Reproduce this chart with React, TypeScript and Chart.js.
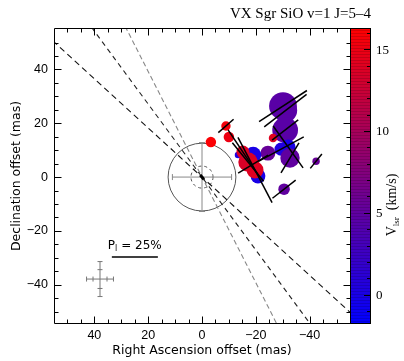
import React, { useEffect, useRef } from 'react';
import { Chart, registerables } from 'chart.js';
Chart.register(...registerables);

// ---------------- data ----------------
const TITLE = 'VX Sgr SiO v=1 J=5\u20134';
const X_TITLE = 'Right Ascension offset (mas)';
const Y_TITLE = 'Declination offset (mas)';

// maser spots: RA offset (mas), Dec offset (mas), velocity (km/s), flux (Jy)
const spotX = [-30.1, -31.0, -30.9, -26.4, -32.0, -29.4, -32.7, -42.4, -30.5, -24.5, -19.0, -20.8, -13.4, -15.2, -17.1, -19.7, -19.0, -10.0, -8.9, -3.3];
const spotY = [26.4, 24.7, 17.5, 14.5, 11.2, 10.4, 7.1, 5.9, -4.5, 8.9, 8.2, 0.4, 8.2, 9.3, 5.6, 2.6, 4.8, 14.9, 19.0, 13.0];
const spotV = [4.5, 4.5, 4.5, 14.0, 0.0, 0.5, 5.0, 5.5, 5.0, 5.5, 0.0, 0.0, 0.5, 14.0, 13.5, 14.0, 14.0, 15.0, 15.5, 16.0];
const spotFlux = [35, 25, 30, 3.3, 10, 8, 17, 2.5, 6, 10, 12, 10, 2, 7.5, 17, 13, 7, 5, 4, 5];
// polarization vectors: position angle (deg, E of N) and linear pol. fraction (%)
const vecPA = [-57, -52.5, -52, null, 35.5, -61.5, -31, -39, -52, null, null, null, null, 33.7, 39, 27.6, -59, null, -49, null];
const vecPol = [31, 29, 18, 0, 28, 28, 19, 10, 16, 0, 0, 0, 0, 29, 27, 40, 19, 0, 11, 0];

// central (star position) vector
const CORE_PA = 40;
const CORE_POL = 3;

// dashed lines through the star (position angles, deg)
const dashPA = [47.6, 36.4, 27.0];

const axisTicks = [-40, -20, 0, 20, 40];
const cbTicks = [0, 5, 10, 15];
const V_MIN = -1.8;
const V_MAX = 16.3;
const POL_REF = 25; // % for the scale bar
const POL_REF_MAS = 17.1; // length in mas of the 25% bar

// ---------------- helpers ----------------
const DEG = Math.PI / 180;
const SANS = '"DejaVu Sans", sans-serif';
const TICKFONT = '"Liberation Sans", Arial, sans-serif';
const SERIF = '"Liberation Serif", "Times New Roman", serif';

function vRGB(v: number): [number, number, number] {
  const t = Math.max(0, Math.min(1, (v - V_MIN) / (V_MAX - V_MIN)));
  return [Math.round(255 * t), 0, Math.round(255 * (1 - t))];
}
function vColor(v: number) {
  const [r, g, b] = vRGB(v);
  return `rgb(${r},${g},${b})`;
}
const polToMas = (p: number) => (p * POL_REF_MAS) / POL_REF;
const fmt = (v: number) => (v < 0 ? '\u2212' + Math.abs(v) : String(v));

function segment(x: number, y: number, pa: number, lenMas: number) {
  const h = lenMas / 2;
  const s = Math.sin(pa * DEG);
  const c = Math.cos(pa * DEG);
  return [
    { x: x - h * s, y: y - h * c },
    { x: x + h * s, y: y + h * c },
  ];
}

function buildDatasets() {
  const ds: any[] = [];
  const dashColors = ['#111', '#222', '#888'];
  const dashStyles = [[6, 4], [5, 4], [5, 3]];
  dashPA.forEach((pa, i) => {
    ds.push({
      data: segment(0, 0, pa, 300),
      showLine: true,
      borderColor: dashColors[i],
      borderDash: dashStyles[i],
      borderWidth: 1.1,
      pointRadius: 0,
      order: 3,
    });
  });
  ds.push({
    data: spotX.map((x, i) => ({ x, y: spotY[i] })),
    pointRadius: spotFlux.map((f) => 2.35 * Math.sqrt(f)),
    pointBackgroundColor: spotV.map(vColor),
    pointBorderWidth: 0,
    showLine: false,
    order: 2,
  });
  spotX.forEach((x, i) => {
    const pa = vecPA[i];
    if (pa === null) return;
    ds.push({
      data: segment(x, spotY[i], pa, polToMas(vecPol[i])),
      showLine: true,
      borderColor: '#000',
      borderWidth: 1.5,
      pointRadius: 0,
      order: 1,
    });
  });
  ds.push({
    data: segment(0, 0, CORE_PA, polToMas(CORE_POL)),
    showLine: true,
    borderColor: '#000',
    borderWidth: 3,
    pointRadius: 0,
    order: 1,
  });
  return ds;
}

// ---------------- drawing plugin ----------------
function drawCross(ctx: CanvasRenderingContext2D, cx: number, cy: number, ox: number, oy: number, ix: number, iy: number, cap: number) {
  ctx.beginPath();
  ctx.moveTo(cx - ox, cy); ctx.lineTo(cx + ox, cy);
  ctx.moveTo(cx, cy - oy); ctx.lineTo(cx, cy + oy);
  const caps: [number, number, boolean][] = [[-ox, 0, true], [ox, 0, true], [0, -oy, false], [0, oy, false]];
  if (ix > 0) caps.push([-ix, 0, true], [ix, 0, true], [0, -iy, false], [0, iy, false]);
  caps.forEach(([dx, dy, vert]) => {
    if (vert) { ctx.moveTo(cx + dx, cy - cap); ctx.lineTo(cx + dx, cy + cap); }
    else { ctx.moveTo(cx - cap, cy + dy); ctx.lineTo(cx + cap, cy + dy); }
  });
  ctx.stroke();
}

const overlay = {
  id: 'overlay',
  beforeDatasetsDraw(chart: any) {
    const { ctx, scales: { x, y } } = chart;
    const k = Math.abs(x.getPixelForValue(1) - x.getPixelForValue(0));
    const cx = x.getPixelForValue(0);
    const cy = y.getPixelForValue(0);
    ctx.save();
    ctx.strokeStyle = '#555';
    ctx.lineWidth = 1;
    ctx.beginPath();
    ctx.arc(cx, cy, 12.6 * k, 0, Math.PI * 2);
    ctx.stroke();
    ctx.setLineDash([3, 3]);
    ctx.beginPath();
    ctx.arc(cx, cy, 4.1 * k, 0, Math.PI * 2);
    ctx.stroke();
    ctx.setLineDash([]);
    ctx.strokeStyle = '#888';
    drawCross(ctx, cx, cy, 11 * k, 12.8 * k, 0, 0, 3);
    ctx.strokeStyle = '#777';
    drawCross(ctx, x.getPixelForValue(37.9), y.getPixelForValue(-37.9), 5 * k, 6.5 * k, 2.6 * k, 3.5 * k, 2.5);
    ctx.restore();
  },
  afterDraw(chart: any) {
    const { ctx, chartArea: { left, right, top, bottom }, scales: { x, y, cb } } = chart;
    ctx.save();
    // ---- colorbar ----
    const cbL = right;
    const cbW = 20;
    for (let py = Math.floor(top); py < Math.ceil(bottom); py++) {
      const v = cb.getValueForPixel(py + 0.5);
      let [r, g, b] = vRGB(v);
      if (py % 3 === 0) { r *= 0.85; g *= 0.85; b *= 0.85; }
      ctx.fillStyle = `rgb(${Math.round(r)},${Math.round(g)},${Math.round(b)})`;
      ctx.fillRect(cbL, py, cbW, 1);
    }
    ctx.strokeStyle = '#000';
    ctx.lineWidth = 1;
    ctx.strokeRect(Math.round(cbL) + 0.5, Math.round(top) + 0.5, cbW, Math.round(bottom - top) - 1);
    ctx.beginPath();
    for (let v = Math.ceil(V_MIN); v <= V_MAX; v++) {
      const py = Math.round(cb.getPixelForValue(v)) + 0.5;
      const len = v % 5 === 0 ? 6 : 3;
      ctx.moveTo(cbL + cbW, py); ctx.lineTo(cbL + cbW - len, py);
    }
    ctx.stroke();
    ctx.fillStyle = '#000';
    ctx.font = `13px ${SERIF}`;
    ctx.textAlign = 'left';
    ctx.textBaseline = 'middle';
    cbTicks.forEach((v) => ctx.fillText(String(v), cbL + cbW + 6, cb.getPixelForValue(v) + 1));
    // V_lsr label
    ctx.save();
    ctx.translate(396, 205);
    ctx.rotate(-Math.PI / 2);
    ctx.textBaseline = 'alphabetic';
    ctx.font = `14px ${SERIF}`;
    const rest = '  (km/s)';
    const wV = ctx.measureText('V').width;
    const wRest = ctx.measureText(rest).width;
    ctx.font = `9px ${SERIF}`;
    const wSub = ctx.measureText('lsr').width;
    let tx = -(wV + wSub + wRest) / 2;
    ctx.font = `14px ${SERIF}`;
    ctx.fillText('V', tx, 0); tx += wV;
    ctx.font = `9px ${SERIF}`;
    ctx.fillText('lsr', tx, 3); tx += wSub;
    ctx.font = `14px ${SERIF}`;
    ctx.fillText(rest, tx, 0);
    ctx.restore();

    // ---- frame & ticks ----
    const L = Math.round(left) + 0.5, R = Math.round(right) + 0.5, T = Math.round(top) + 0.5, B = Math.round(bottom) - 0.5;
    ctx.strokeStyle = '#000';
    ctx.lineWidth = 1;
    ctx.beginPath();
    ctx.moveTo(L, T); ctx.lineTo(R, T); ctx.lineTo(R, B); ctx.lineTo(L, B); ctx.closePath();
    for (let v = -50; v <= 50; v += 5) {
      const len = v % 20 === 0 ? 7 : 4;
      const px = Math.round(x.getPixelForValue(v)) + 0.5;
      ctx.moveTo(px, B); ctx.lineTo(px, B - len);
      ctx.moveTo(px, T); ctx.lineTo(px, T + len);
      const py = Math.round(y.getPixelForValue(v)) + 0.5;
      if (py > T + 1 && py < B - 1) {
        ctx.moveTo(L, py); ctx.lineTo(L + len, py);
        ctx.moveTo(R, py); ctx.lineTo(R - len, py);
      }
    }
    ctx.stroke();

    // ---- title ----
    ctx.fillStyle = '#000';
    ctx.font = `15px ${SERIF}`;
    ctx.textAlign = 'right';
    ctx.textBaseline = 'alphabetic';
    ctx.fillText(TITLE, 371, 18);

    // ---- polarization scale bar ----
    const bx0 = x.getPixelForValue(33.5);
    const bx1 = x.getPixelForValue(33.5 - polToMas(POL_REF));
    const by = y.getPixelForValue(-29.7);
    ctx.lineWidth = 1.6;
    ctx.beginPath();
    ctx.moveTo(bx0, by); ctx.lineTo(bx1, by);
    ctx.stroke();
    ctx.textAlign = 'left';
    ctx.font = `12px ${SANS}`;
    let lx = bx0 - 4;
    const ly = by - 8;
    ctx.fillText('P', lx, ly); lx += ctx.measureText('P').width;
    ctx.font = `8px ${SANS}`;
    ctx.fillText('l', lx, ly + 2.5); lx += ctx.measureText('l').width;
    ctx.font = `12px ${SANS}`;
    ctx.fillText(' = ' + POL_REF + '%', lx, ly);
    ctx.restore();
  },
};

// ---------------- component ----------------
export default function App() {
  const ref = useRef<HTMLCanvasElement>(null);
  useEffect(() => {
    const canvas = ref.current;
    if (!canvas) return;
    const setTicks = (s: any) => { s.ticks = axisTicks.map((v) => ({ value: v })); };
    const chart = new Chart(canvas, {
      type: 'scatter',
      data: { datasets: buildDatasets() },
      plugins: [overlay],
      options: {
        responsive: false,
        animation: false,
        devicePixelRatio: 1,
        events: [],
        layout: { padding: { left: 0, right: 54, top: 28, bottom: 0 } },
        elements: { line: { tension: 0 } },
        plugins: { legend: { display: false }, tooltip: { enabled: false }, title: { display: false } },
        scales: {
          x: {
            type: 'linear',
            position: 'bottom',
            reverse: true,
            min: -55,
            max: 55,
            afterBuildTicks: setTicks,
            afterFit: (s: any) => { s.height = 37; },
            grid: { display: false, drawTicks: false },
            border: { display: false },
            ticks: { color: '#000', padding: 4.5, font: { family: TICKFONT, size: 12.5 }, callback: (v: any) => fmt(Number(v)), maxRotation: 0 },
            title: { display: true, text: X_TITLE, color: '#000', font: { family: SANS, size: 12.5 }, padding: { top: 0, bottom: 2.5 } },
          },
          y: {
            type: 'linear',
            position: 'left',
            min: -54.6,
            max: 55.4,
            afterBuildTicks: setTicks,
            afterFit: (s: any) => { s.width = 54; },
            grid: { display: false, drawTicks: false },
            border: { display: false },
            ticks: { color: '#000', padding: 6, font: { family: TICKFONT, size: 12.5 }, callback: (v: any) => fmt(Number(v)) },
            title: { display: true, text: Y_TITLE, color: '#000', font: { family: SANS, size: 12.5 }, padding: { top: 9.5, bottom: 0 } },
          },
          cb: {
            type: 'linear',
            axis: 'y',
            position: 'right',
            display: false,
            min: V_MIN,
            max: V_MAX,
          },
        },
      } as any,
    });
    return () => chart.destroy();
  }, []);
  return (
    <div style={{ position: 'fixed', left: 0, top: 0, width: 404, height: 361, background: '#fff' }}>
      <canvas ref={ref} width={404} height={361} style={{ display: 'block', width: 404, height: 361 }} />
    </div>
  );
}
